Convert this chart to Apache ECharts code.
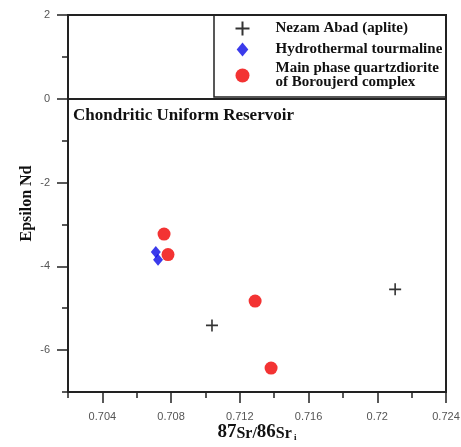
<!DOCTYPE html>
<html>
<head>
<meta charset="utf-8">
<script src="https://cdn.jsdelivr.net/npm/echarts@6/dist/echarts.min.js"></script>
<style>
html, body { margin: 0; padding: 0; background: #fff; }
#chart { width: 461px; height: 447px; }
</style>
</head>
<body>
<div id="chart"></div>
<script>
// data
var nezamSr = [0.71038, 0.72104];
var nezamNd = [-5.41, -4.55];
var tourmalineSr = [0.70711, 0.70724];
var tourmalineNd = [-3.66, -3.84];
var dioriteSr = [0.70759, 0.70782, 0.71289, 0.71382];
var dioriteNd = [-3.23, -3.72, -4.83, -6.43];

var xMajorTicks = [0.704, 0.708, 0.712, 0.716, 0.72, 0.724];
var xMinorTicks = [0.702, 0.706, 0.71, 0.714, 0.718, 0.722];
var yMajorTicks = [-6, -4, -2, 0, 2];
var yMinorTicks = [-7, -5, -3, -1, 1];
var churValue = [0];

var seriesNames = [
    'Nezam Abad (aplite)',
    'Hydrothermal tourmaline',
    'Main phase quartzdiorite\nof Boroujerd complex'
];

function pairs(xs, ys) {
    return xs.map(function (x, i) { return [x, ys[i]]; });
}

var serif = '"Liberation Serif", "Times New Roman", serif';
var sans = '"Liberation Sans", Arial, sans-serif';
var axisColor = '#222';

var chart = echarts.init(document.getElementById('chart'));

chart.setOption({
    animation: false,
    grid: {
        left: 68,
        right: 15,
        top: 15,
        bottom: 55,
        outerBoundsMode: 'none',
        show: true,
        borderColor: axisColor,
        borderWidth: 2
    },
    legend: {
        orient: 'vertical',
        left: 233,
        top: 19,
        padding: 0,
        itemWidth: 56,
        itemHeight: 14,
        itemGap: 4,
        data: seriesNames,
        textStyle: {
            fontFamily: serif,
            fontWeight: 'bold',
            fontSize: 15,
            lineHeight: 14,
            color: '#111'
        }
    },
    graphic: [{
        type: 'rect',
        shape: { x: 214, y: 15, width: 232, height: 82 },
        style: { fill: 'none', stroke: axisColor, lineWidth: 1.5 },
        silent: true
    }],
    xAxis: [{
        type: 'value',
        position: 'bottom',
        min: 0.702,
        max: 0.724,
        name: '{n|87}{s|Sr/}{n|86}{s|Sr}{i| i}',
        nameLocation: 'middle',
        nameGap: 31,
        nameMoveOverlap: false,
        nameTextStyle: {
            rich: {
                n: { fontFamily: serif, fontWeight: 'bold', fontSize: 19, color: '#111', verticalAlign: 'bottom' },
                s: { fontFamily: serif, fontWeight: 'bold', fontSize: 16, color: '#111', verticalAlign: 'bottom' },
                i: { fontFamily: serif, fontWeight: 'bold', fontSize: 9, color: '#111', verticalAlign: 'bottom' }
            }
        },
        axisLine: { onZero: false, lineStyle: { color: axisColor, width: 2 } },
        axisTick: { customValues: xMajorTicks, length: 11, lineStyle: { color: axisColor, width: 1.5 } },
        axisLabel: { customValues: xMajorTicks, margin: 19, color: '#555', fontSize: 11, fontFamily: sans },
        splitLine: { show: false }
    }, {
        type: 'value',
        position: 'bottom',
        min: 0.702,
        max: 0.724,
        axisLine: { show: false, onZero: false },
        axisTick: { customValues: xMinorTicks, length: 6, lineStyle: { color: axisColor, width: 1.5 } },
        axisLabel: { show: false },
        splitLine: { show: false }
    }],
    yAxis: [{
        type: 'value',
        position: 'left',
        min: -7,
        max: 2,
        name: 'Epsilon Nd',
        nameLocation: 'middle',
        nameGap: 33,
        nameRotate: 90,
        nameMoveOverlap: false,
        nameTextStyle: { fontFamily: serif, fontWeight: 'bold', fontSize: 16, color: '#111' },
        axisLine: { onZero: false, lineStyle: { color: axisColor, width: 2 } },
        axisTick: { customValues: yMajorTicks, length: 11, lineStyle: { color: axisColor, width: 1.5 } },
        axisLabel: { customValues: yMajorTicks, margin: 18, color: '#555', fontSize: 11, fontFamily: sans },
        splitLine: { show: false }
    }, {
        type: 'value',
        position: 'left',
        min: -7,
        max: 2,
        axisLine: { show: false, onZero: false },
        axisTick: { customValues: yMinorTicks, length: 6, lineStyle: { color: axisColor, width: 1.5 } },
        axisLabel: { show: false },
        splitLine: { show: false }
    }],
    series: [{
        name: seriesNames[0],
        type: 'scatter',
        symbol: 'path://M5,0L5,10M0,5L10,5',
        symbolSize: 12,
        itemStyle: { color: 'none', borderColor: '#000', borderWidth: 1.6 },
        data: pairs(nezamSr, nezamNd),
        markLine: {
            silent: true,
            symbol: 'none',
            lineStyle: { color: axisColor, width: 2, type: 'solid' },
            label: {
                show: true,
                position: 'insideStartBottom',
                distance: [5, 8],
                formatter: 'Chondritic Uniform Reservoir',
                fontFamily: serif,
                fontWeight: 'bold',
                fontSize: 17,
                color: '#111'
            },
            data: churValue.map(function (v) { return { yAxis: v }; })
        }
    }, {
        name: seriesNames[1],
        type: 'scatter',
        symbol: 'path://M5,0L10,6L5,12L0,6Z',
        symbolSize: [10, 12],
        itemStyle: { color: '#0a0ae6' },
        data: pairs(tourmalineSr, tourmalineNd)
    }, {
        name: seriesNames[2],
        type: 'scatter',
        symbol: 'circle',
        symbolSize: 13,
        itemStyle: { color: '#f00000' },
        data: pairs(dioriteSr, dioriteNd)
    }]
});
</script>
</body>
</html>
